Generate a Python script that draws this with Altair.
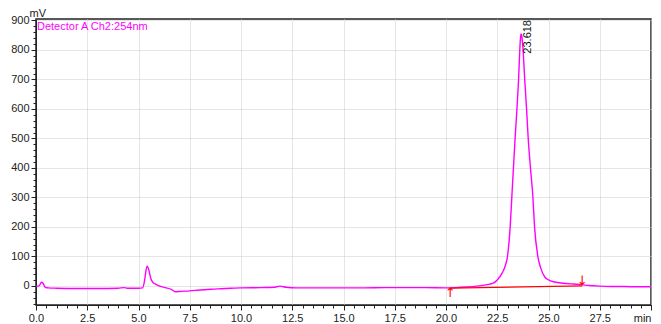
import altair as alt
import pandas as pd

# Chromatogram trace (time in min, signal in mV)
times = [0.0, 0.15, 0.27, 0.35, 0.45, 0.6, 1.0, 2.0, 3.0, 4.0, 4.3, 4.45, 5.0, 5.2,
         5.3, 5.35, 5.42, 5.5, 5.6, 5.7, 5.85, 6.0, 6.3, 6.6, 6.8, 7.0, 7.5, 8.0,
         8.7, 9.5, 10.0, 11.0, 11.6, 11.9, 12.2, 12.7, 14.0, 15.0, 16.0, 17.0,
         18.0, 19.0, 20.0, 20.5, 21.0, 21.5, 22.0, 22.3, 22.5, 22.75, 22.9, 23.0,
         23.13, 23.21, 23.29, 23.37, 23.46, 23.54, 23.6, 23.63, 23.66, 23.7,
         23.76, 23.84, 23.93, 24.01, 24.12, 24.24, 24.32, 24.48, 24.62, 24.82,
         25.0, 25.3, 25.7, 26.2, 26.6, 27.0, 27.5, 28.0, 28.5, 29.0, 30.0]
signal = [-1, 0, 12, 8, -5, -7, -8, -9, -9, -8, -6, -8, -8, -7,
          20, 45, 67, 55, 25, 12, 5, 0, -6, -12, -20, -19, -17, -14,
          -11, -8, -7, -6, -5, -1, -5, -7, -7, -7, -7, -6,
          -6, -6, -7, -6, -4, -1, 4, 9, 20, 45, 70, 100,
          200, 300, 400, 500, 600, 700, 800, 838, 854, 845,
          800, 700, 600, 500, 400, 300, 200, 100, 60, 30,
          20, 13, 9, 6, 4, 1, -1, -2, -2, -3, -3]

# Integration baseline (start / end)
base_t = [20.2, 26.65]
base_v = [-8, 0]

peak_rt = ["23.618"]

# Axis ticks
x_major = [0.0, 2.5, 5.0, 7.5, 10.0, 12.5, 15.0, 17.5, 20.0, 22.5, 25.0, 27.5, 30.0]
x_minor = [0.5, 1.0, 1.5, 2.0, 3.0, 3.5, 4.0, 4.5, 5.5, 6.0, 6.5, 7.0, 8.0, 8.5, 9.0, 9.5,
           10.5, 11.0, 11.5, 12.0, 13.0, 13.5, 14.0, 14.5, 15.5, 16.0, 16.5, 17.0,
           18.0, 18.5, 19.0, 19.5, 20.5, 21.0, 21.5, 22.0, 23.0, 23.5, 24.0, 24.5,
           25.5, 26.0, 26.5, 27.0, 28.0, 28.5, 29.0, 29.5, 30.0]
y_major = [0, 100, 200, 300, 400, 500, 600, 700, 800, 900]
y_minor = [-60, -40, -20, 20, 40, 60, 80, 120, 140, 160, 180, 220, 240, 260, 280,
           320, 340, 360, 380, 420, 440, 460, 480, 520, 540, 560, 580,
           620, 640, 660, 680, 720, 740, 760, 780, 820, 840, 860, 880]

trace = pd.DataFrame({"t": times, "v": signal})
base = pd.DataFrame({"t": base_t, "v": base_v})
label = pd.DataFrame({"t": [24.0], "v": [905], "s": peak_rt})

xs = alt.Scale(domain=[0, 30], nice=False, zero=False)
ys = alt.Scale(domain=[-65, 905], nice=False, zero=False)

FONT = "Liberation Sans"
INK = "#222"
GRID = "#cccccc"

xaxis = alt.Axis(
    values=x_major, title=None, orient="bottom", format=".1f",
    labelExpr="datum.value === 30 ? '' : datum.label",
    labelOverlap=False, labelFlush=False, labelFont=FONT, labelFontSize=11,
    labelColor=INK, labelPadding=2, tickSize=5, tickColor=INK,
    grid=True, gridColor=GRID, gridDash=[1, 1], domainColor=INK,
)
xaxis_minor = alt.Axis(
    values=x_minor, title=None, orient="bottom",
    labelExpr="datum.value === 30 ? 'min' : ''",
    labelOverlap=False, labelFlush=True, labelFont=FONT, labelFontSize=11,
    labelColor=INK, labelPadding=4, tickSize=3, tickColor=INK,
    grid=False, domain=False,
)
yaxis = alt.Axis(
    values=y_major, title="mV", orient="left", format="d",
    labelOverlap=False, labelFlush=False, labelFont=FONT, labelFontSize=11,
    labelColor=INK, labelPadding=2, tickSize=5, tickColor=INK,
    grid=True, gridColor=GRID, gridDash=[1, 1], domainColor=INK,
    titleAngle=0, titleX=-7, titleY=-3, titleAlign="left", titleBaseline="alphabetic",
    titleFont=FONT, titleFontSize=11, titleFontWeight="normal", titleColor=INK,
)
yaxis_minor = alt.Axis(
    values=y_minor, title=None, orient="left", labels=False,
    tickSize=3, tickColor=INK, grid=False, domain=False,
)

line = alt.Chart(trace).mark_line(color="#ff00ff", strokeWidth=1.4, interpolate="monotone").encode(
    x=alt.X("t:Q", scale=xs, axis=xaxis),
    y=alt.Y("v:Q", scale=ys, axis=yaxis),
)

baseline = alt.Chart(base).mark_line(color="#ff0000", strokeWidth=1.3).encode(
    x=alt.X("t:Q", scale=xs, axis=xaxis_minor),
    y=alt.Y("v:Q", scale=ys, axis=yaxis_minor),
)

arrow_up = alt.Chart(base.iloc[[0]].assign(s="↑")).mark_text(
    color="#ff0000", font="DejaVu Sans", fontSize=13, baseline="top", dy=-1
).encode(
    x=alt.X("t:Q", scale=xs, axis=None),
    y=alt.Y("v:Q", scale=ys, axis=None),
    text="s:N",
)
arrow_dn = alt.Chart(base.iloc[[1]].assign(s="↓")).mark_text(
    color="#ff0000", font="DejaVu Sans", fontSize=13, baseline="bottom", dy=2
).encode(
    x=alt.X("t:Q", scale=xs, axis=None),
    y=alt.Y("v:Q", scale=ys, axis=None),
    text="s:N",
)

peak_label = alt.Chart(label).mark_text(
    angle=270, align="right", baseline="middle", font=FONT, fontSize=11, color="#111", dx=-1
).encode(
    x=alt.X("t:Q", scale=xs, axis=None),
    y=alt.Y("v:Q", scale=ys, axis=None),
    text="s:N",
)

det = alt.Chart(pd.DataFrame({"s": ["Detector A Ch2:254nm"]})).mark_text(
    align="left", baseline="top", font=FONT, fontSize=11, color="#ff00ff"
).encode(x=alt.value(1), y=alt.value(2), text="s:N")

chart = alt.layer(line, baseline, arrow_up, arrow_dn, peak_label, det).resolve_axis(
    x="independent", y="independent"
).properties(
    width=615, height=286,
    autosize=alt.AutoSizeParams(type="none"),
    padding={"left": 28, "top": 11, "right": 2, "bottom": 18},
).configure_view(stroke=INK, strokeWidth=1.5)

chart.save("out.html", embed_options={"renderer": "svg", "actions": False})
